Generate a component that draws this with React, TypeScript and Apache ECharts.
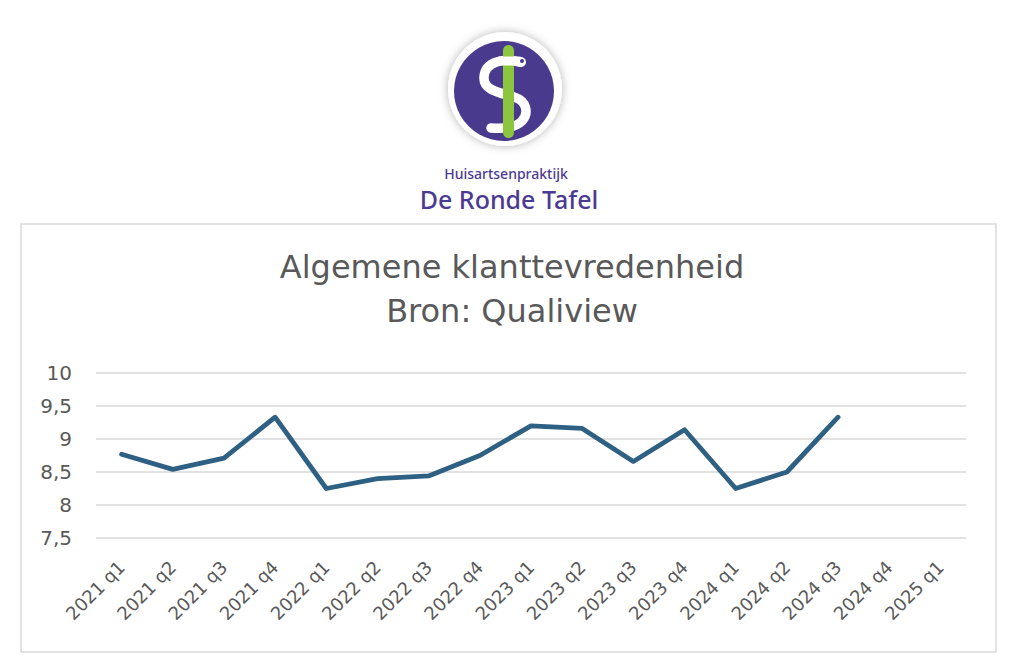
import React, { useEffect, useRef } from "react";
import * as echarts from "echarts";

const categories = [
  "2021 q1", "2021 q2", "2021 q3", "2021 q4",
  "2022 q1", "2022 q2", "2022 q3", "2022 q4",
  "2023 q1", "2023 q2", "2023 q3", "2023 q4",
  "2024 q1", "2024 q2", "2024 q3", "2024 q4",
  "2025 q1",
];
const satisfaction: (number | null)[] = [
  8.77, 8.54, 8.71, 9.33,
  8.25, 8.4, 8.44, 8.75,
  9.2, 9.16, 8.66, 9.14,
  8.25, 8.5, 9.33, null,
  null,
];
const titleLines = ["Algemene klanttevredenheid", "Bron: Qualiview"];
const yMin = 7.5;
const yMax = 10;
const yStep = 0.5;

const snakePath =
  "M 519 62 C 505 58 485 61 484 77 C 483 91 502 93 514 97 C 527 101 529 113 522 121 C 515 128 502 129 491 128";

export default function App() {
  const ref = useRef<HTMLDivElement>(null);
  useEffect(() => {
    if (!ref.current) return;
    try {
      echarts.graphic.registerShape("snake", echarts.graphic.extendPath(snakePath, {}));
    } catch (e) {}
    const chart = echarts.init(ref.current, null, { renderer: "svg" });
    const font = "'DejaVu Sans', 'Open Sans', sans-serif";
    const logoFont = "'Noto Sans', 'Open Sans', sans-serif";
    chart.setOption({
      animation: false,
      backgroundColor: "#ffffff",
      title: {
        text: titleLines.join("\n"),
        left: "center",
        top: 240,
        textStyle: {
          fontFamily: font,
          fontSize: 32,
          fontWeight: "normal",
          color: "#595959",
          lineHeight: 44,
        },
      },
      grid: { left: 96, right: 58, top: 373, bottom: 123 },
      xAxis: {
        type: "category",
        data: categories,
        boundaryGap: true,
        axisLine: { show: false },
        axisTick: { show: false },
        axisLabel: {
          rotate: 45,
          margin: 26,
          fontFamily: font,
          fontSize: 18,
          color: "#595959",
          interval: 0,
        },
      },
      yAxis: {
        type: "value",
        min: yMin,
        max: yMax,
        interval: yStep,
        axisLine: { show: false },
        axisTick: { show: false },
        axisLabel: {
          margin: 24,
          fontFamily: font,
          fontSize: 20,
          color: "#595959",
          formatter: (v: number) => String(v).replace(".", ","),
        },
        splitLine: { lineStyle: { color: "#d9d9d9", width: 1.5 } },
      },
      series: [
        {
          type: "line",
          data: satisfaction,
          symbol: "none",
          connectNulls: false,
          lineStyle: { color: "#2e6083", width: 4.8, cap: "round", join: "round" },
        },
      ],
      graphic: [
        {
          type: "rect",
          shape: { x: 21, y: 224, width: 975, height: 428 },
          style: { fill: "none", stroke: "#d9d9d9", lineWidth: 1.5 },
          z: -1,
        },
        {
          type: "circle",
          shape: { cx: 505, cy: 89, r: 57 },
          style: {
            fill: "#ffffff",
            shadowBlur: 10,
            shadowColor: "rgba(0,0,0,0.3)",
          },
        },
        {
          type: "circle",
          shape: { cx: 504, cy: 91, r: 50 },
          style: { fill: "#4a3a8e" },
        },
        {
          type: "snake",
          x: 0,
          y: 0,
          style: { fill: "none", stroke: "#ffffff", lineWidth: 9.5, lineCap: "round" },
          z: 3,
        },
        {
          type: "rect",
          shape: { x: 503, y: 45, width: 11, height: 93, r: 5.5 },
          style: { fill: "#8cc63f" },
          z: 4,
        },
        {
          type: "line",
          shape: { x1: 500, y1: 61, x2: 519, y2: 61 },
          style: { stroke: "#ffffff", lineWidth: 9, lineCap: "round" },
          z: 5,
        },
        {
          type: "circle",
          shape: { cx: 521, cy: 62, r: 5 },
          style: { fill: "#ffffff" },
          z: 6,
        },
        {
          type: "circle",
          shape: { cx: 522, cy: 61, r: 2 },
          style: { fill: "#4a3a8e" },
          z: 7,
        },
        {
          type: "text",
          x: 506,
          y: 173,
          style: {
            text: "Huisartsenpraktijk",
            fontFamily: logoFont,
            fontSize: 14,
            fontWeight: 500,
            fill: "#4b3a92",
            align: "center",
            verticalAlign: "middle",
          },
        },
        {
          type: "text",
          x: 509,
          y: 199,
          style: {
            text: "De Ronde Tafel",
            fontFamily: logoFont,
            fontSize: 25,
            fontWeight: 500,
            fill: "#4b3a92",
            align: "center",
            verticalAlign: "middle",
          },
        },
      ],
    });
    return () => chart.dispose();
  }, []);
  return (
    <div
      ref={ref}
      style={{ position: "fixed", left: 0, top: 0, width: 1024, height: 661 }}
    />
  );
}
